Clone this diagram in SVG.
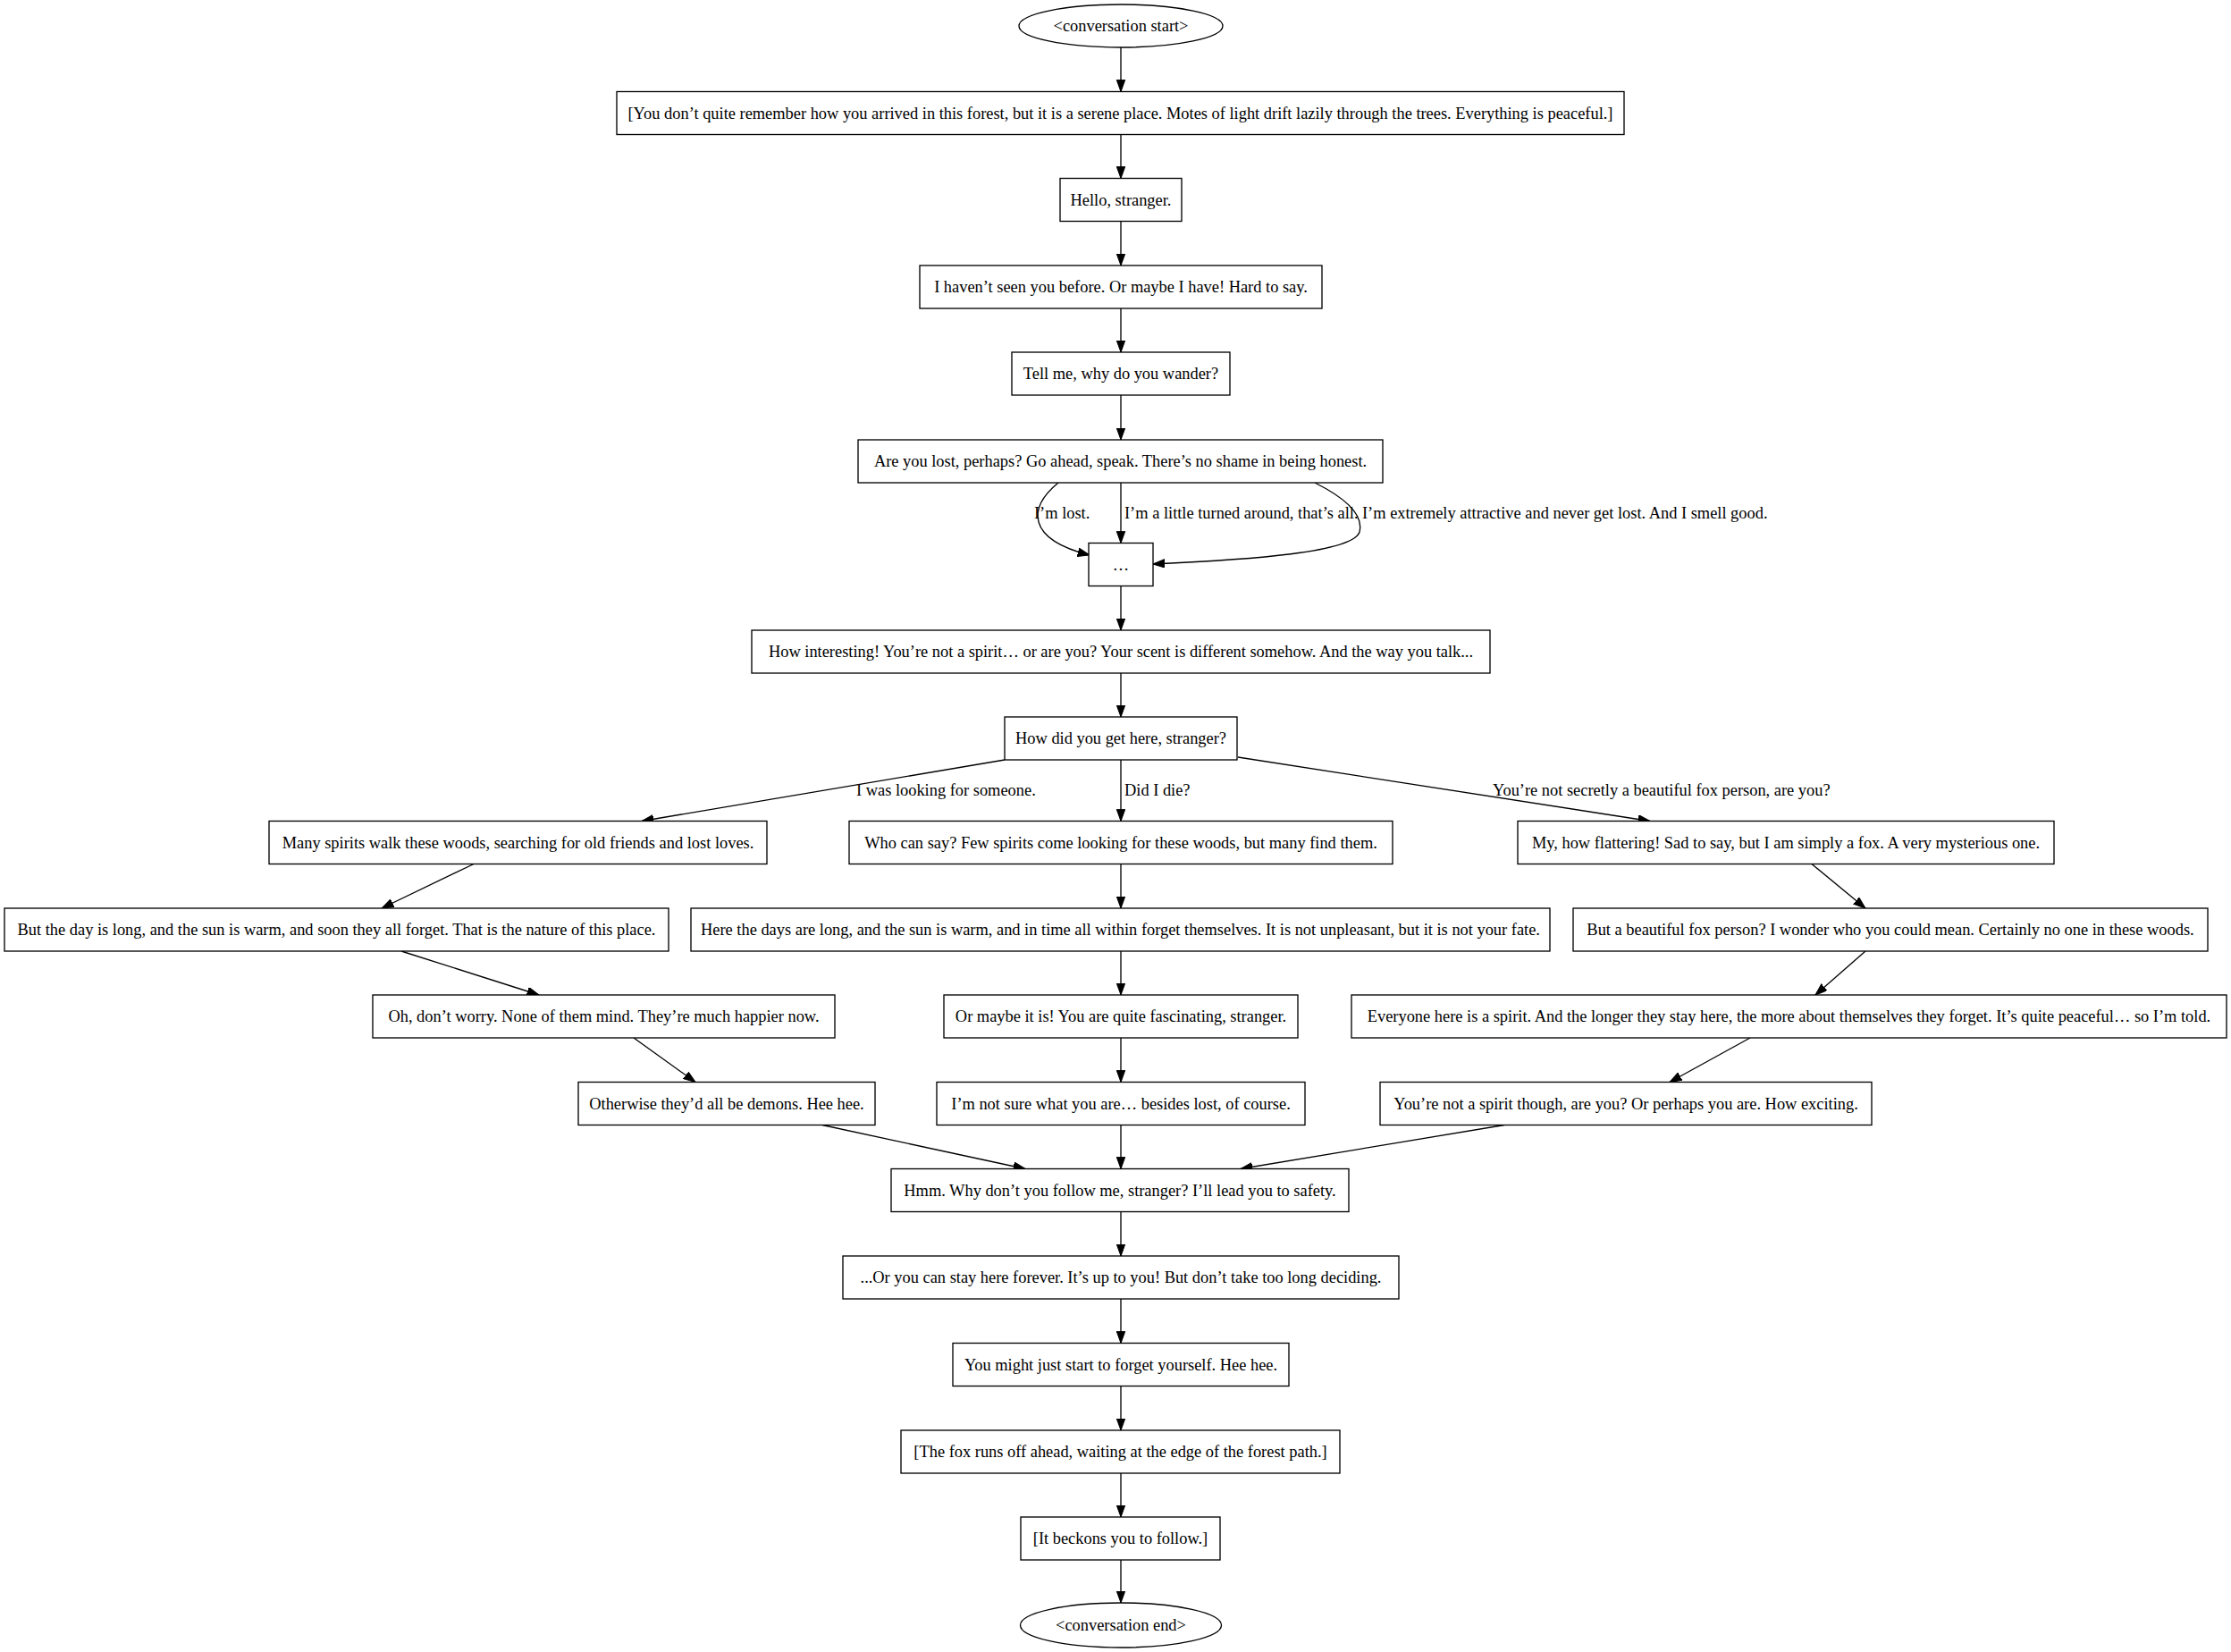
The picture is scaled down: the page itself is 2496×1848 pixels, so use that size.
<svg xmlns="http://www.w3.org/2000/svg" width="2496" height="1848" viewBox="0 0 2496 1848">
<style>
.n rect, .n ellipse { fill: #ffffff; stroke: #000000; stroke-width: 1.33; }
text { font-family: "Liberation Serif", "Times New Roman", serif; font-size: 18.4px; fill: #000000; }
.n text { text-anchor: middle; }
.e path, .e line { fill: none; stroke: #000000; stroke-width: 1.33; marker-end: url(#ah); }
</style>
<defs>
<marker id="ah" markerUnits="userSpaceOnUse" markerWidth="14" markerHeight="10" refX="13.3" refY="4.8" orient="auto">
<path d="M0,0 L13.3,4.8 L0,9.6 Z" fill="#000000" stroke="#000000" stroke-width="1"/>
</marker>
</defs>
<rect width="2496" height="1848" fill="#ffffff"/>
<g id="edges" class="e">
<line x1="1254" y1="53" x2="1254" y2="102.5"/>
<line x1="1254" y1="150.5" x2="1254" y2="199.5"/>
<line x1="1254" y1="247.5" x2="1254" y2="297"/>
<line x1="1254" y1="345" x2="1254" y2="394"/>
<line x1="1254" y1="442" x2="1254" y2="492"/>
<path d="M1184,540 C1150,568 1148,603 1219,621"/>
<line x1="1254" y1="540" x2="1254" y2="607.5"/>
<path d="M1471,540 C1505,557 1526,575 1521,595 C1514,618 1400,626 1290,631"/>
<line x1="1254" y1="655.5" x2="1254" y2="705"/>
<line x1="1254" y1="753" x2="1254" y2="802"/>
<line x1="1124" y1="850" x2="718" y2="918.5"/>
<line x1="1254" y1="850" x2="1254" y2="918.5"/>
<line x1="1385" y1="847" x2="1846" y2="918.5"/>
<line x1="530" y1="966.5" x2="427" y2="1016"/>
<line x1="1254" y1="966.5" x2="1254" y2="1016"/>
<line x1="2027" y1="966.5" x2="2087" y2="1016"/>
<line x1="449" y1="1064" x2="603" y2="1113"/>
<line x1="1254" y1="1064" x2="1254" y2="1113"/>
<line x1="2087" y1="1064" x2="2031" y2="1113"/>
<line x1="709" y1="1161" x2="778" y2="1210.5"/>
<line x1="1254" y1="1161" x2="1254" y2="1210.5"/>
<line x1="1958" y1="1161" x2="1868" y2="1210.5"/>
<line x1="920" y1="1258.5" x2="1147" y2="1307.5"/>
<line x1="1254" y1="1258.5" x2="1254" y2="1307.5"/>
<line x1="1683" y1="1258.5" x2="1388" y2="1307.5"/>
<line x1="1254" y1="1355.5" x2="1254" y2="1405"/>
<line x1="1254" y1="1453" x2="1254" y2="1502.5"/>
<line x1="1254" y1="1550.5" x2="1254" y2="1600"/>
<line x1="1254" y1="1648" x2="1254" y2="1697"/>
<line x1="1254" y1="1745" x2="1254" y2="1793"/>
</g>
<g id="edge-labels">
<text x="1157" y="580">I’m lost.</text>
<text x="1258" y="580">I’m a little turned around, that’s all.</text>
<text x="1524" y="580">I’m extremely attractive and never get lost. And I smell good.</text>
<text x="958" y="890">I was looking for someone.</text>
<text x="1258" y="890">Did I die?</text>
<text x="1670" y="890">You’re not secretly a beautiful fox person, are you?</text>
</g>
<g id="n0" class="n"><ellipse cx="1254" cy="29" rx="114" ry="24"/><text x="1254" y="35">&lt;conversation start&gt;</text></g>
<g id="n1" class="n"><rect x="690" y="102.5" width="1127" height="48"/><text x="1253.5" y="132.5">[You don’t quite remember how you arrived in this forest, but it is a serene place. Motes of light drift lazily through the trees. Everything is peaceful.]</text></g>
<g id="n2" class="n"><rect x="1186" y="199.5" width="136" height="48"/><text x="1254" y="229.5">Hello, stranger.</text></g>
<g id="n3" class="n"><rect x="1029" y="297" width="450" height="48"/><text x="1254" y="327">I haven’t seen you before. Or maybe I have! Hard to say.</text></g>
<g id="n4" class="n"><rect x="1132" y="394" width="244" height="48"/><text x="1254" y="424">Tell me, why do you wander?</text></g>
<g id="n5" class="n"><rect x="960" y="492" width="587" height="48"/><text x="1253.5" y="522">Are you lost, perhaps? Go ahead, speak. There’s no shame in being honest.</text></g>
<g id="n6" class="n"><rect x="1218" y="607.5" width="72" height="48"/><text x="1254" y="637.5">…</text></g>
<g id="n7" class="n"><rect x="841" y="705" width="826" height="48"/><text x="1254" y="735">How interesting! You’re not a spirit… or are you? Your scent is different somehow. And the way you talk...</text></g>
<g id="n8" class="n"><rect x="1124" y="802" width="260" height="48"/><text x="1254" y="832">How did you get here, stranger?</text></g>
<g id="n9" class="n"><rect x="301" y="918.5" width="557" height="48"/><text x="579.5" y="948.5">Many spirits walk these woods, searching for old friends and lost loves.</text></g>
<g id="n10" class="n"><rect x="950" y="918.5" width="608" height="48"/><text x="1254" y="948.5">Who can say? Few spirits come looking for these woods, but many find them.</text></g>
<g id="n11" class="n"><rect x="1698" y="918.5" width="600" height="48"/><text x="1998" y="948.5">My, how flattering! Sad to say, but I am simply a fox. A very mysterious one.</text></g>
<g id="n12" class="n"><rect x="5" y="1016" width="743" height="48"/><text x="376.5" y="1046">But the day is long, and the sun is warm, and soon they all forget. That is the nature of this place.</text></g>
<g id="n13" class="n"><rect x="773" y="1016" width="961" height="48"/><text x="1253.5" y="1046">Here the days are long, and the sun is warm, and in time all within forget themselves. It is not unpleasant, but it is not your fate.</text></g>
<g id="n14" class="n"><rect x="1760" y="1016" width="710" height="48"/><text x="2115" y="1046">But a beautiful fox person? I wonder who you could mean. Certainly no one in these woods.</text></g>
<g id="n15" class="n"><rect x="417" y="1113" width="517" height="48"/><text x="675.5" y="1143">Oh, don’t worry. None of them mind. They’re much happier now.</text></g>
<g id="n16" class="n"><rect x="1056" y="1113" width="396" height="48"/><text x="1254" y="1143">Or maybe it is! You are quite fascinating, stranger.</text></g>
<g id="n17" class="n"><rect x="1512" y="1113" width="979" height="48"/><text x="2001.5" y="1143">Everyone here is a spirit. And the longer they stay here, the more about themselves they forget. It’s quite peaceful… so I’m told.</text></g>
<g id="n18" class="n"><rect x="647" y="1210.5" width="332" height="48"/><text x="813" y="1240.5">Otherwise they’d all be demons. Hee hee.</text></g>
<g id="n19" class="n"><rect x="1048" y="1210.5" width="412" height="48"/><text x="1254" y="1240.5">I’m not sure what you are… besides lost, of course.</text></g>
<g id="n20" class="n"><rect x="1544" y="1210.5" width="550" height="48"/><text x="1819" y="1240.5">You’re not a spirit though, are you? Or perhaps you are. How exciting.</text></g>
<g id="n21" class="n"><rect x="997" y="1307.5" width="512" height="48"/><text x="1253" y="1337.5">Hmm. Why don’t you follow me, stranger? I’ll lead you to safety.</text></g>
<g id="n22" class="n"><rect x="943" y="1405" width="622" height="48"/><text x="1254" y="1435">...Or you can stay here forever. It’s up to you! But don’t take too long deciding.</text></g>
<g id="n23" class="n"><rect x="1066" y="1502.5" width="376" height="48"/><text x="1254" y="1532.5">You might just start to forget yourself. Hee hee.</text></g>
<g id="n24" class="n"><rect x="1008" y="1600" width="491" height="48"/><text x="1253.5" y="1630">[The fox runs off ahead, waiting at the edge of the forest path.]</text></g>
<g id="n25" class="n"><rect x="1142" y="1697" width="223" height="48"/><text x="1253.5" y="1727">[It beckons you to follow.]</text></g>
<g id="n26" class="n"><ellipse cx="1254" cy="1818" rx="112.5" ry="25"/><text x="1254" y="1824">&lt;conversation end&gt;</text></g>
</svg>
